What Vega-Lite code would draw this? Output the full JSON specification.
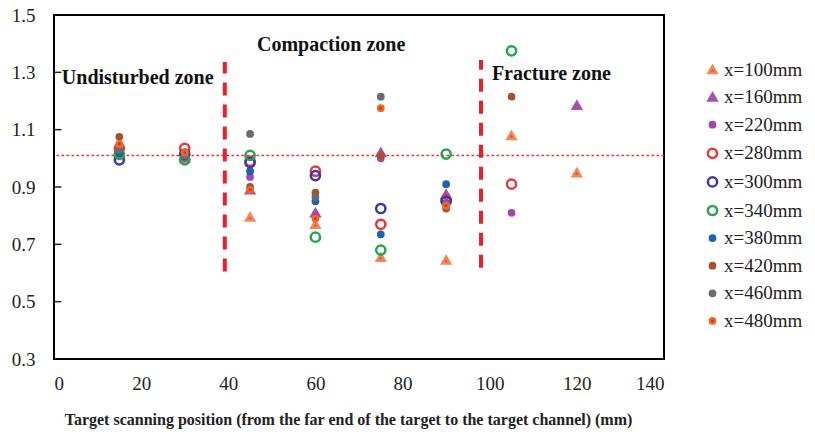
{
  "$schema": "https://vega.github.io/schema/vega-lite/v6.json",
  "width": 610,
  "height": 344,
  "autosize": {"type": "none"},
  "padding": {"left": 54, "top": 15, "right": 151, "bottom": 77},
  "background": "white",
  "config": {
    "view": {"stroke": "black", "strokeWidth": 2},
    "font": "Liberation Serif",
    "axis": {"grid": false, "domain": false, "labelFont": "Liberation Serif", "labelColor": "#222", "labelFontSize": 19, "titleFont": "Liberation Serif"},
    "legend": {"orient": "none", "legendX": 649, "legendY": 45, "padding": 0, "labelFont": "Liberation Serif", "labelFontSize": 19, "labelColor": "#222", "rowPadding": 7.6, "symbolStrokeWidth": 2.5, "labelOffset": 2, "labelLimit": 200}
  },
  "layer": [
    {
      "data": {"values": [{}]},
      "mark": {"type": "rule", "color": "#ff2a2a", "strokeDash": [2.5, 2.5], "strokeWidth": 1.5},
      "encoding": {"y": {"datum": 1.01, "type": "quantitative"}}
    },
    {
      "data": {"values": [{"t": 0.5}, {"t": 0.7}, {"t": 0.9}, {"t": 1.1}, {"t": 1.3}]},
      "mark": {"type": "rule", "color": "#222", "strokeWidth": 1.5},
      "encoding": {"y": {"field": "t", "type": "quantitative"}, "x": {"datum": 0, "type": "quantitative"}, "x2": {"datum": 1.7}}
    },
    {
      "data": {"values": [
        {"pos": 39.2, "low": 0.605, "high": 1.336},
        {"pos": 98.0, "low": 0.618, "high": 1.343}
      ]},
      "mark": {"type": "rule", "color": "#e8202a", "strokeWidth": 4, "strokeDash": [13, 9]},
      "encoding": {
        "x": {"field": "pos", "type": "quantitative"},
        "y": {"field": "low", "type": "quantitative"},
        "y2": {"field": "high"}
      }
    },
    {
      "data": {"values": [
        {"series": "x=100mm", "pos": 15, "v": 1.01}, {"series": "x=100mm", "pos": 30, "v": 1.0}, {"series": "x=100mm", "pos": 45, "v": 0.795}, {"series": "x=100mm", "pos": 60, "v": 0.77}, {"series": "x=100mm", "pos": 75, "v": 0.655}, {"series": "x=100mm", "pos": 90, "v": 0.645}, {"series": "x=100mm", "pos": 105, "v": 1.08}, {"series": "x=100mm", "pos": 120, "v": 0.95},
        {"series": "x=160mm", "pos": 15, "v": 1.02}, {"series": "x=160mm", "pos": 30, "v": 1.01}, {"series": "x=160mm", "pos": 45, "v": 0.89}, {"series": "x=160mm", "pos": 60, "v": 0.81}, {"series": "x=160mm", "pos": 75, "v": 1.02}, {"series": "x=160mm", "pos": 90, "v": 0.875}, {"series": "x=160mm", "pos": 120, "v": 1.185},
        {"series": "x=220mm", "pos": 15, "v": 1.01}, {"series": "x=220mm", "pos": 30, "v": 1.0}, {"series": "x=220mm", "pos": 45, "v": 0.935}, {"series": "x=220mm", "pos": 60, "v": 0.8}, {"series": "x=220mm", "pos": 75, "v": 1.0}, {"series": "x=220mm", "pos": 90, "v": 0.845}, {"series": "x=220mm", "pos": 105, "v": 0.81},
        {"series": "x=280mm", "pos": 15, "v": 1.035}, {"series": "x=280mm", "pos": 30, "v": 1.035}, {"series": "x=280mm", "pos": 45, "v": 0.99}, {"series": "x=280mm", "pos": 60, "v": 0.955}, {"series": "x=280mm", "pos": 75, "v": 0.77}, {"series": "x=280mm", "pos": 90, "v": 0.855}, {"series": "x=280mm", "pos": 105, "v": 0.91},
        {"series": "x=300mm", "pos": 15, "v": 0.995}, {"series": "x=300mm", "pos": 30, "v": 1.015}, {"series": "x=300mm", "pos": 45, "v": 0.985}, {"series": "x=300mm", "pos": 60, "v": 0.94}, {"series": "x=300mm", "pos": 75, "v": 0.825}, {"series": "x=300mm", "pos": 90, "v": 0.85},
        {"series": "x=340mm", "pos": 15, "v": 1.015}, {"series": "x=340mm", "pos": 30, "v": 0.995}, {"series": "x=340mm", "pos": 45, "v": 1.01}, {"series": "x=340mm", "pos": 60, "v": 0.725}, {"series": "x=340mm", "pos": 75, "v": 0.68}, {"series": "x=340mm", "pos": 90, "v": 1.015}, {"series": "x=340mm", "pos": 105, "v": 1.375},
        {"series": "x=380mm", "pos": 15, "v": 1.02}, {"series": "x=380mm", "pos": 30, "v": 1.01}, {"series": "x=380mm", "pos": 45, "v": 0.955}, {"series": "x=380mm", "pos": 60, "v": 0.85}, {"series": "x=380mm", "pos": 75, "v": 0.735}, {"series": "x=380mm", "pos": 90, "v": 0.91},
        {"series": "x=420mm", "pos": 15, "v": 1.075}, {"series": "x=420mm", "pos": 30, "v": 1.02}, {"series": "x=420mm", "pos": 45, "v": 0.9}, {"series": "x=420mm", "pos": 60, "v": 0.88}, {"series": "x=420mm", "pos": 75, "v": 1.01}, {"series": "x=420mm", "pos": 90, "v": 0.825}, {"series": "x=420mm", "pos": 105, "v": 1.215},
        {"series": "x=460mm", "pos": 15, "v": 1.03}, {"series": "x=460mm", "pos": 30, "v": 1.01}, {"series": "x=460mm", "pos": 45, "v": 1.085}, {"series": "x=460mm", "pos": 60, "v": 0.865}, {"series": "x=460mm", "pos": 75, "v": 1.215}, {"series": "x=460mm", "pos": 90, "v": 0.84},
        {"series": "x=480mm", "pos": 15, "v": 1.05}, {"series": "x=480mm", "pos": 30, "v": 1.02}, {"series": "x=480mm", "pos": 45, "v": 0.89}, {"series": "x=480mm", "pos": 60, "v": 0.79}, {"series": "x=480mm", "pos": 75, "v": 1.175}, {"series": "x=480mm", "pos": 90, "v": 0.835}
      ]},
      "mark": {"type": "point", "strokeWidth": 2.5, "opacity": 1},
      "encoding": {
        "x": {"field": "pos", "type": "quantitative", "scale": {"domain": [0, 140], "nice": false},
              "axis": {"values": [0, 20, 40, 60, 80, 100, 120, 140], "ticks": false, "labelPadding": 15,
                       "title": "Target scanning position (from the far end of the target to the target channel) (mm)",
                       "titleFontSize": 16, "titleFontWeight": "bold", "titlePadding": 18, "titleColor": "#222", "titleX": 294}},
        "y": {"field": "v", "type": "quantitative", "scale": {"domain": [0.3, 1.5], "nice": false, "zero": false},
              "axis": {"values": [0.3, 0.5, 0.7, 0.9, 1.1, 1.3, 1.5], "format": ".1f", "ticks": false, "labelPadding": 19, "title": null}},
        "shape": {"field": "series", "type": "nominal", "title": null,
                  "scale": {"domain": ["x=100mm", "x=160mm", "x=220mm", "x=280mm", "x=300mm", "x=340mm", "x=380mm", "x=420mm", "x=460mm", "x=480mm"],
                            "range": ["triangle-up", "triangle-up", "circle", "circle", "circle", "circle", "circle", "circle", "circle", "circle"]}},
        "fill": {"field": "series", "type": "nominal", "title": null,
                 "scale": {"domain": ["x=100mm", "x=160mm", "x=220mm", "x=280mm", "x=300mm", "x=340mm", "x=380mm", "x=420mm", "x=460mm", "x=480mm"],
                           "range": ["#d4547a", "#a650b0", "#a845a8", "transparent", "transparent", "transparent", "#1f63a8", "#a8522a", "#666c72", "#e02a10"]}},
        "stroke": {"field": "series", "type": "nominal", "title": null,
                   "scale": {"domain": ["x=100mm", "x=160mm", "x=220mm", "x=280mm", "x=300mm", "x=340mm", "x=380mm", "x=420mm", "x=460mm", "x=480mm"],
                             "range": ["#f58a50", "#a650b0", "#a845a8", "#e83838", "#3838b0", "#22a852", "#1f63a8", "#a8522a", "#666c72", "#ec6a28"]}},
        "size": {"field": "series", "type": "nominal", "title": null,
                 "scale": {"type": "ordinal", "domain": ["x=100mm", "x=160mm", "x=220mm", "x=280mm", "x=300mm", "x=340mm", "x=380mm", "x=420mm", "x=460mm", "x=480mm"],
                           "range": [65, 65, 28, 85, 85, 85, 28, 28, 28, 28]}}
      }
    },
    {
      "data": {"values": [{}]},
      "mark": {"type": "text", "text": "Undisturbed zone", "font": "Liberation Serif", "fontWeight": "bold", "fontSize": 20, "align": "left", "baseline": "middle", "color": "#111"},
      "encoding": {"x": {"datum": 1.8, "type": "quantitative"}, "y": {"datum": 1.28, "type": "quantitative"}}
    },
    {
      "data": {"values": [{}]},
      "mark": {"type": "text", "text": "Compaction zone", "font": "Liberation Serif", "fontWeight": "bold", "fontSize": 20, "align": "center", "baseline": "middle", "color": "#111"},
      "encoding": {"x": {"datum": 63.6, "type": "quantitative"}, "y": {"datum": 1.395, "type": "quantitative"}}
    },
    {
      "data": {"values": [{}]},
      "mark": {"type": "text", "text": "Fracture zone", "font": "Liberation Serif", "fontWeight": "bold", "fontSize": 20, "align": "left", "baseline": "middle", "color": "#111"},
      "encoding": {"x": {"datum": 100.5, "type": "quantitative"}, "y": {"datum": 1.294, "type": "quantitative"}}
    }
  ],
  "resolve": {"scale": {"x": "shared", "y": "shared"}}
}
